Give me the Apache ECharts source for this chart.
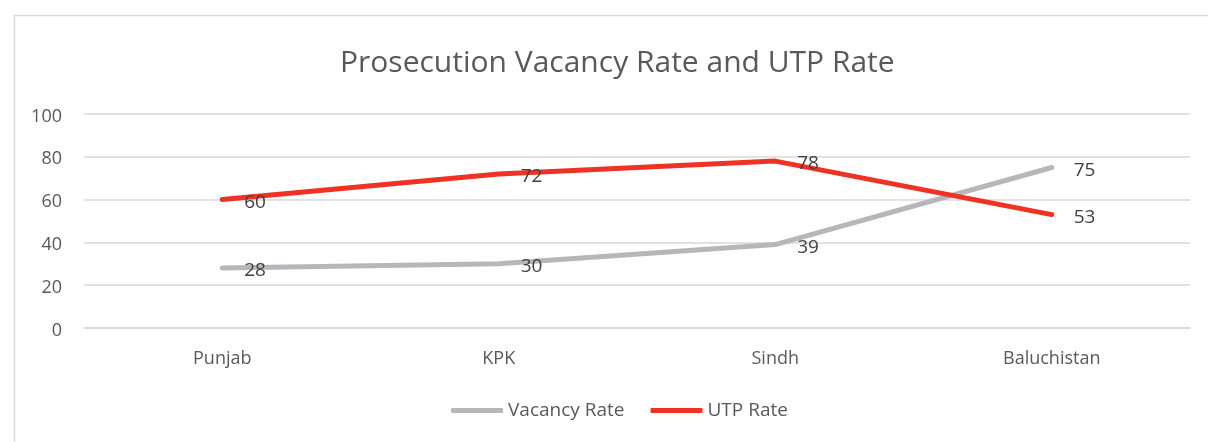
<!DOCTYPE html>
<html>
<head>
<meta charset="utf-8">
<script src="https://cdn.jsdelivr.net/npm/echarts@6/dist/echarts.min.js"></script>
<style>
  html, body { margin: 0; padding: 0; background: #ffffff; }
  #chart { width: 1208px; height: 442px; }
</style>
</head>
<body>
<div id="chart"></div>
<script>
// Provinces and rates (%)
const provinces = ['Punjab', 'KPK', 'Sindh', 'Baluchistan'];
const vacancyRate = [28, 30, 39, 75];
const utpRate = [60, 72, 78, 53];
const yTicks = { min: 0, max: 100, interval: 20 };

const FONT = '"Open Sans", "Noto Sans", sans-serif';
const chart = echarts.init(document.getElementById('chart'), null, { renderer: 'canvas' });

const labelStyle = {
  show: true,
  position: 'right',
  distance: 20,
  offset: [0, 3],
  color: '#404040',
  fontSize: 19,
  fontFamily: FONT
};

chart.setOption({
  backgroundColor: '#ffffff',
  animation: false,
  graphic: [{
    type: 'rect',
    left: 12, top: 13,
    shape: { width: 1230, height: 460 },
    style: { fill: 'none', stroke: '#d9d9d9', lineWidth: 1.5 },
    silent: true
  }],
  title: {
    text: 'Prosecution Vacancy Rate and UTP Rate',
    left: 335,
    top: 43,
    textStyle: { color: '#595959', fontSize: 30, fontWeight: 'normal', fontFamily: FONT }
  },
  legend: {
    bottom: 17,
    left: 446,
    itemWidth: 52,
    itemHeight: 5,
    itemGap: 26,
    icon: 'roundRect',
    textStyle: { color: '#595959', fontSize: 19, fontFamily: FONT },
    data: ['Vacancy Rate', 'UTP Rate']
  },
  grid: { left: 84, right: 18, top: 114, bottom: 114, containLabel: false },
  xAxis: {
    type: 'category',
    data: provinces,
    boundaryGap: true,
    axisLine: { show: true, lineStyle: { color: '#d9d9d9', width: 1.5 } },
    axisTick: { show: false },
    axisLabel: { color: '#595959', fontSize: 18, margin: 22, fontFamily: FONT }
  },
  yAxis: {
    type: 'value',
    min: yTicks.min,
    max: yTicks.max,
    interval: yTicks.interval,
    axisLine: { show: false },
    axisTick: { show: false },
    axisLabel: {
      color: '#595959', fontSize: 18, margin: 22, fontFamily: FONT,
      formatter: v => '{n|' + v + '}',
      rich: { n: { fontSize: 18, fontFamily: FONT, color: '#595959', padding: [5, 0, 0, 0] } }
    },
    splitLine: { lineStyle: { color: '#d9d9d9', width: 1.5 } }
  },
  series: [
    {
      name: 'Vacancy Rate',
      type: 'line',
      data: vacancyRate,
      showSymbol: true,
      symbol: 'circle',
      symbolSize: 4,
      itemStyle: { color: '#b7b7bb', borderWidth: 0 },
      lineStyle: { color: '#b7b7bb', width: 5, cap: 'round', join: 'round' },
      label: labelStyle,
      z: 2
    },
    {
      name: 'UTP Rate',
      type: 'line',
      data: utpRate,
      showSymbol: true,
      symbol: 'circle',
      symbolSize: 4,
      itemStyle: { color: '#ee3224', borderWidth: 0 },
      lineStyle: { color: '#ee3224', width: 5, cap: 'round', join: 'round' },
      label: labelStyle,
      z: 3
    }
  ]
});
</script>
</body>
</html>
